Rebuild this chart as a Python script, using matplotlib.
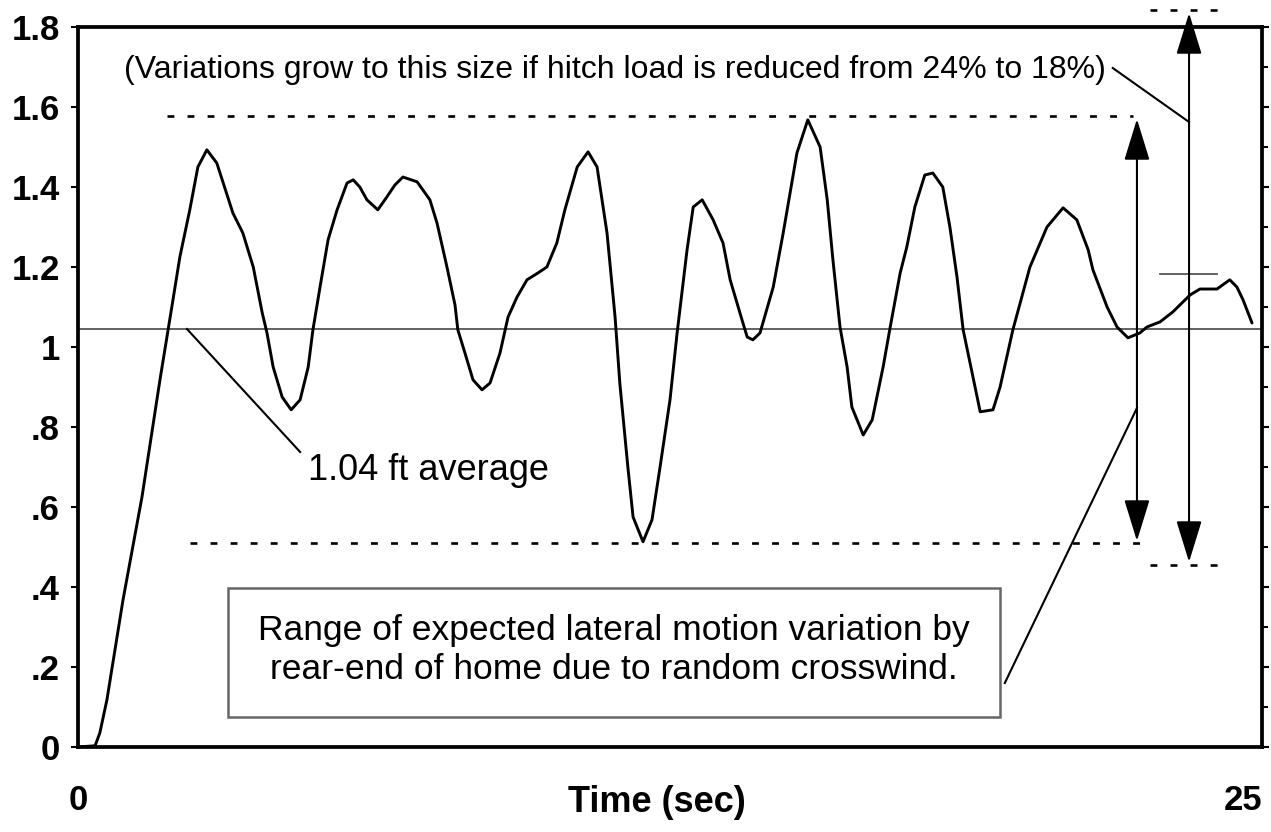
import numpy as np
import matplotlib
matplotlib.use("Agg")
import matplotlib.pyplot as plt
from matplotlib.patches import Rectangle, FancyArrowPatch
from matplotlib.ticker import MultipleLocator

plt.rcParams['font.family'] = ['Liberation Sans', 'DejaVu Sans']
plt.rcParams['axes.linewidth'] = 2.7

# lateral motion of rear-end
time_s = [0.00, 0.36, 0.46, 0.61, 0.95, 1.35, 1.73, 1.98, 2.15, 2.36, 2.53, 2.72, 2.93,
          3.27, 3.48, 3.70, 3.89, 3.99, 4.12, 4.31, 4.50, 4.69, 4.86, 4.96, 5.11, 5.28,
          5.47, 5.68, 5.81, 5.95, 6.10, 6.33, 6.52, 6.69, 6.86, 7.16, 7.43, 7.58, 7.79,
          7.96, 8.02, 8.17, 8.34, 8.53, 8.70, 8.91, 9.08, 9.27, 9.48, 9.71, 9.90, 10.11,
          10.28, 10.54, 10.77, 10.96, 11.17, 11.34, 11.44, 11.61, 11.72, 11.93, 12.12,
          12.29, 12.50, 12.65, 12.86, 12.99, 13.18, 13.41, 13.62, 13.77, 14.02, 14.13,
          14.25, 14.40, 14.68, 14.89, 15.18, 15.41, 15.67, 15.82, 15.94, 16.09, 16.24,
          16.34, 16.58, 16.77, 17.00, 17.15, 17.36, 17.50, 17.67, 17.88, 18.05, 18.26,
          18.41, 18.56, 18.69, 18.88, 19.05, 19.32, 19.47, 19.74, 20.10, 20.46, 20.80,
          21.09, 21.33, 21.43, 21.73, 21.94, 22.17, 22.42, 22.57, 22.85, 23.12, 23.48,
          23.69, 24.05, 24.32, 24.47, 24.60, 24.79]
lateral_ft = [0.000, 0.003, 0.035, 0.118, 0.368, 0.625, 0.918, 1.100, 1.225, 1.343, 1.450,
              1.493, 1.460, 1.335, 1.285, 1.200, 1.085, 1.035, 0.950, 0.875, 0.843, 0.868,
              0.950, 1.043, 1.150, 1.268, 1.343, 1.410, 1.418, 1.400, 1.368, 1.343, 1.375,
              1.405, 1.425, 1.413, 1.368, 1.310, 1.200, 1.105, 1.043, 0.985, 0.918, 0.893,
              0.910, 0.985, 1.075, 1.125, 1.168, 1.185, 1.200, 1.260, 1.343, 1.450, 1.488,
              1.450, 1.285, 1.075, 0.910, 0.700, 0.575, 0.513, 0.568, 0.700, 0.868, 1.035,
              1.243, 1.350, 1.368, 1.318, 1.260, 1.168, 1.068, 1.025, 1.018, 1.035, 1.150,
              1.285, 1.485, 1.568, 1.500, 1.368, 1.218, 1.050, 0.950, 0.850, 0.780, 0.818,
              0.950, 1.050, 1.185, 1.250, 1.350, 1.430, 1.435, 1.400, 1.300, 1.175, 1.043,
              0.935, 0.838, 0.843, 0.900, 1.043, 1.200, 1.300, 1.348, 1.318, 1.243, 1.193,
              1.100, 1.050, 1.023, 1.035, 1.050, 1.063, 1.088, 1.130, 1.145, 1.145, 1.168,
              1.150, 1.118, 1.060]

avg_ft = 1.045
yticks = [0, 0.2, 0.4, 0.6, 0.8, 1.0, 1.2, 1.4, 1.6, 1.8]
ytick_labels = ["0", ".2", ".4", ".6", ".8", "1", "1.2", "1.4", "1.6", "1.8"]
xticks = [0, 25]
xtick_labels = ["0", "25"]

# range bands (24% hitch load = inner, 18% = outer)
inner_lo, inner_hi = 0.51, 1.578
outer_lo, outer_hi = 0.455, 1.8425
band_18_mid = 1.183

fig = plt.figure(figsize=(12.71, 8.32), dpi=100)
ax = fig.add_axes([0.0614, 0.1022, 0.9315, 0.8653])
ax.set_xlim(0, 25)
ax.set_ylim(0, 1.8)

ax.plot(time_s, lateral_ft, color='black', lw=2.1, zorder=5,
        solid_joinstyle='round', solid_capstyle='round')
ax.axhline(avg_ft, color='#555555', lw=1.3, zorder=2)

dash = (0, (2.6, 5.0))
ax.plot([1.88, 22.28], [inner_hi, inner_hi], color='black', lw=1.9, ls=dash)
ax.plot([2.36, 22.42], [inner_lo, inner_lo], color='black', lw=1.9, ls=dash)
ax.plot([22.64, 24.16], [outer_hi, outer_hi], color='black', lw=1.9, ls=dash, clip_on=False)
ax.plot([22.64, 24.16], [outer_lo, outer_lo], color='black', lw=1.9, ls=dash, clip_on=False)
ax.plot([22.85, 24.05], [band_18_mid, band_18_mid], color='#555555', lw=1.3)

# double arrows
for xa, lo, hi in [(22.36, 0.515, 1.570), (23.46, 0.4625, 1.835)]:
    arr = FancyArrowPatch((xa, lo), (xa, hi), arrowstyle='<|-|>,head_length=26,head_width=8',
                          mutation_scale=1, color='black', lw=1.5, shrinkA=0, shrinkB=0,
                          clip_on=False, zorder=6)
    ax.add_patch(arr)

# leaders
ax.plot([2.30, 4.69], [avg_ft, 0.7375], color='black', lw=1.5)
ax.plot([21.85, 23.46], [1.6975, 1.5625], color='black', lw=1.5, clip_on=False)
ax.plot([19.57, 22.36], [0.16, 0.8475], color='black', lw=1.5)

ax.text(4.86, 0.6675, "1.04 ft average", fontsize=26, va='baseline', ha='left')
ax.text(11.34, 1.6725, "(Variations grow to this size if hitch load is reduced from 24% to 18%)",
        fontsize=23, va='baseline', ha='center')

ax.add_patch(Rectangle((3.17, 0.075), 16.30, 0.3225, facecolor='white',
                       edgecolor='#666666', lw=1.8, zorder=4))
ax.text(11.32, 0.2425, "Range of expected lateral motion variation by\nrear-end of home due to random crosswind.",
        fontsize=25.5, ha='center', va='center', linespacing=1.25, zorder=7)

# ticks
ax.set_yticks(yticks)
ax.set_yticklabels(ytick_labels, fontsize=25, fontweight='bold')
ax.yaxis.set_minor_locator(MultipleLocator(0.1))
ax.tick_params(axis='y', which='major', direction='out', length=5, width=1.5, pad=8,
               left=True, right=True)
ax.tick_params(axis='y', which='minor', direction='out', length=4, width=1.5,
               left=False, right=True)
ax.set_xticks(xticks)
ax.set_xticklabels(xtick_labels, fontsize=25, fontweight='bold')
ax.tick_params(axis='x', length=0, pad=27)
ax.get_xticklabels()[1].set_horizontalalignment('right')

fig.text(657 / 1271, 1 - 803 / 832, "Time (sec)", fontsize=26, fontweight='bold',
         ha='center', va='center')

fig.savefig("out.png", dpi=100)
